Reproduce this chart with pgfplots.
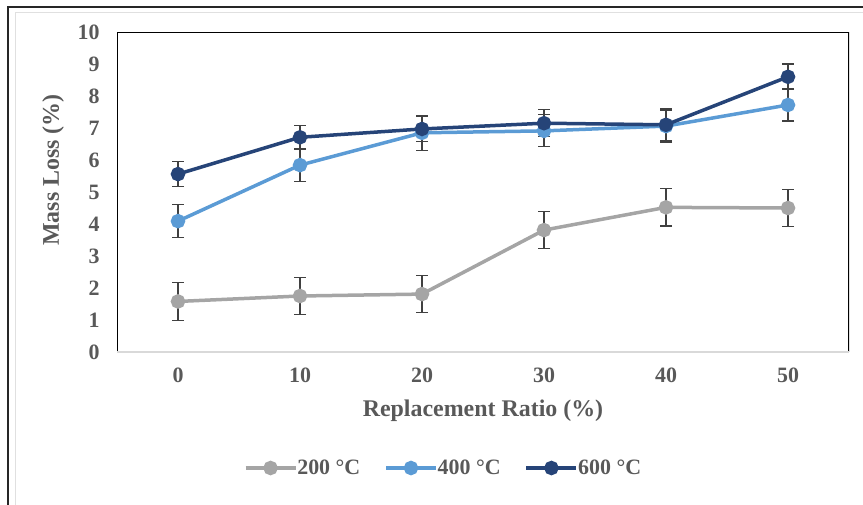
\documentclass[border=0pt]{standalone}
\usepackage{pgfplots}
\pgfplotsset{compat=1.18}
\usepackage{pgfplotstable}
\usepackage{fontspec}
\setmainfont{Liberation Serif}
\definecolor{c200}{HTML}{A5A5A5}
\definecolor{c400}{HTML}{5B9BD5}
\definecolor{c600}{HTML}{264478}
\definecolor{txt}{HTML}{595959}
\definecolor{ebar}{HTML}{404040}
\pgfplotstableread{
x y e
0 1.58 0.60
10 1.75 0.57
20 1.81 0.58
30 3.81 0.57
40 4.52 0.58
50 4.50 0.58
}\tA
\pgfplotstableread{
x y e
0 4.09 0.52
10 5.84 0.52
20 6.85 0.55
30 6.91 0.50
40 7.06 0.50
50 7.72 0.50
}\tB
\pgfplotstableread{
x y e
0 5.56 0.40
10 6.71 0.38
20 6.97 0.38
30 7.15 0.42
40 7.10 0.50
50 8.60 0.40
}\tC
\begin{document}
\begin{tikzpicture}
\path[use as bounding box] (0bp,0bp) rectangle (863bp,-505bp);
\draw[black!12, line width=1bp] (15bp,-506bp) -- (15bp,-12bp) -- (864bp,-12bp);
\draw[black!85, line width=2bp] (8bp,-506bp) -- (8bp,-7bp) -- (864bp,-7bp);
\begin{axis}[
  at={(117bp,-352bp)}, anchor=south west,
  scale only axis, width=732bp, height=320bp,
  xmin=-5, xmax=55, ymin=0, ymax=10,
  xtick={0,10,...,50}, ytick={0,1,...,10},
  major tick length=0pt,
  axis line style={draw=none},
  /pgf/number format/assume math mode=true,
  tick label style={font=\fontsize{22}{22}\selectfont\bfseries, text=txt},
  yticklabel style={xshift=-14bp},
  xticklabel style={yshift=-12bp},
  xlabel={Replacement Ratio (\%)},
  ylabel={Mass Loss (\%)},
  label style={font=\fontsize{24}{24}\selectfont\bfseries, text=txt},
  xlabel style={at={(rel axis cs:0.5,-0.184)}, anchor=center},
  ylabel style={at={(rel axis cs:-0.0874,0.569)}, anchor=center},
  legend style={at={(rel axis cs:0.446,-0.3625)}, anchor=center, draw=none, fill=none,
    legend columns=3, font=\fontsize{22}{22}\selectfont\bfseries, text=txt,
    /tikz/every even column/.append style={column sep=22bp},
    /tikz/every odd column/.append style={column sep=-2bp}},
  legend image code/.code={\draw[#1, mark repeat=2, mark phase=2] plot coordinates {(0bp,0bp) (25bp,0bp) (50bp,0bp)};},
  error bars/y dir=both, error bars/y explicit,
  error bars/error bar style={line width=1.2bp, ebar},
  error bars/error mark options={rotate=90, ebar, line width=1.2bp, mark size=6bp},
]
\draw[black, line width=1.3bp] (rel axis cs:0,0) -- (rel axis cs:0,1) -- (rel axis cs:1,1) -- (rel axis cs:1,0);
\draw[black!15, line width=1.3bp] (rel axis cs:0,0) -- (rel axis cs:1,0);
\addplot[c200, line width=3.5bp, mark=*, mark size=5.5bp, mark options={fill=c200, draw=c200}]
  table[x=x, y=y, y error=e] {\tA};
\addlegendentry{200 °C}
\addplot[c400, line width=3.5bp, mark=*, mark size=5.5bp, mark options={fill=c400, draw=c400}]
  table[x=x, y=y, y error=e] {\tB};
\addlegendentry{400 °C}
\addplot[c600, line width=3.5bp, mark=*, mark size=5.5bp, mark options={fill=c600, draw=c600}]
  table[x=x, y=y, y error=e] {\tC};
\addlegendentry{600 °C}
\end{axis}
\end{tikzpicture}
\end{document}
